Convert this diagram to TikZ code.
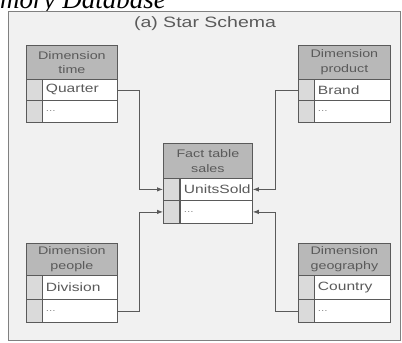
\documentclass[tikz,border=0pt]{standalone}
\usepackage{fontspec}
\setmainfont[FakeStretch=1.3]{Liberation Sans}
\newfontfamily\captionserif{Liberation Serif}
\usetikzlibrary{arrows.meta}
\definecolor{framegray}{HTML}{F1F1F1}
\definecolor{headgray}{HTML}{B8B8B8}
\definecolor{keygray}{HTML}{DADADA}
\definecolor{inkgray}{HTML}{5A5A5A}
\definecolor{dotgray}{HTML}{8A8A8A}
\tikzset{
  cell/.style={draw=inkgray, line width=0.8pt, anchor=north west, inner sep=0pt, text=inkgray},
  head/.style={cell, fill=headgray, align=center, font=\fontsize{11}{14.5}\selectfont},
  keycol/.style={cell, fill=keygray, minimum width=16pt, minimum height=#1},
  field/.style={cell, fill=white, inner xsep=3.5pt, align=left, font=\fontsize{12}{14}\selectfont},
  etc/.style={field, text=dotgray, font=\fontsize{9}{10}\selectfont, text depth=-3pt},
  link/.style={draw=inkgray, line width=0.8pt, -{Latex[length=6pt,width=4.5pt]}}
}
\begin{document}
\begin{tikzpicture}[x=1pt, y=-1pt]
  \useasboundingbox (0,0) rectangle (402,343);
  \clip (0,0) rectangle (402,343);
  \node[anchor=base west, inner sep=0pt, font=\captionserif\itshape\fontsize{27}{27}\selectfont] (topline) at (0,8) {mory Database};
  \draw[draw=gray, fill=framegray, line width=0.8pt] (8,11) rectangle (400,340);
  \node[text=inkgray, font=\fontsize{15}{17}\selectfont] (title) at (205,24) {(a) Star Schema};
  % dimension time
  \node[head, minimum width=91pt, minimum height=34pt] (time) at (26,45) {Dimension\\time};
  \node[keycol=21pt] (timeQk) at (26,79) {};
  \node[field, text width=68pt, minimum height=21pt] (timeQ) at (42,79) {Quarter};
  \node[keycol=22pt] (timeEk) at (26,100) {};
  \node[etc, text width=68pt, minimum height=22pt] (timeE) at (42,100) {...};
  % dimension product
  \node[head, minimum width=92pt, minimum height=34pt] (prod) at (298,45) {Dimension\\product};
  \node[keycol=21pt] (prodBk) at (298,79) {};
  \node[field, text width=69pt, minimum height=21pt] (prodB) at (314,79) {Brand};
  \node[keycol=22pt] (prodEk) at (298,100) {};
  \node[etc, text width=69pt, minimum height=22pt] (prodE) at (314,100) {...};
  % fact table
  \node[head, minimum width=89pt, minimum height=35pt] (fact) at (163,143) {Fact table\\sales};
  \node[keycol=22pt] (factUk) at (163,178) {};
  \node[field, text width=65pt, minimum height=22pt] (factU) at (180,178) {UnitsSold};
  \node[keycol=23pt] (factEk) at (163,200) {};
  \node[etc, text width=65pt, minimum height=23pt] (factE) at (180,200) {...};
  % dimension people
  \node[head, minimum width=91pt, minimum height=32pt] (people) at (26,243) {Dimension\\people};
  \node[keycol=24pt] (peopleDk) at (26,275) {};
  \node[field, text width=68pt, minimum height=24pt] (peopleD) at (42,275) {Division};
  \node[keycol=23pt] (peopleEk) at (26,299) {};
  \node[etc, text width=68pt, minimum height=23pt] (peopleE) at (42,299) {...};
  % dimension geography
  \node[head, minimum width=92pt, minimum height=32pt] (geo) at (298,243) {Dimension\\geography};
  \node[keycol=24pt] (geoCk) at (298,275) {};
  \node[field, text width=69pt, minimum height=24pt] (geoC) at (314,275) {Country};
  \node[keycol=23pt] (geoEk) at (298,299) {};
  \node[etc, text width=69pt, minimum height=23pt] (geoE) at (314,299) {...};
  \begin{scope}[link]
    \draw (timeQ.east) -- ++(22,0) |- (factUk.west);
    \draw (prodBk.west) -- ++(-23,0) |- (factU.east);
    \draw (peopleE.east) -- ++(22,0) |- (factEk.west);
    \draw (geoEk.west) -- ++(-23,0) |- (factE.east);
  \end{scope}
\end{tikzpicture}
\end{document}
